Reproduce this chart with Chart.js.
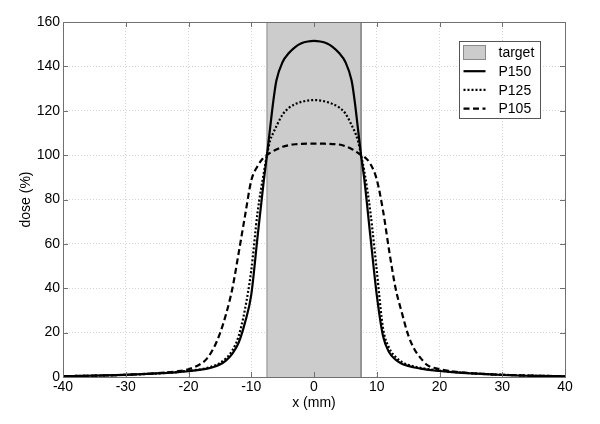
<!DOCTYPE html>
<html>
<head>
<meta charset="utf-8">
<script src="https://cdn.jsdelivr.net/npm/chart.js@4.4.1/dist/chart.umd.min.js"></script>
<style>
  html, body { margin: 0; padding: 0; background: #fff; }
</style>
</head>
<body>
<canvas id="doseChart" width="600" height="424"></canvas>
<script>
// sampled lateral positions (mm)
const xs = [-40, -35, -30, -25, -22, -20, -18, -17, -16, -15, -14, -13, -12, -11, -10, -9, -8, -7.5, -7, -6.5, -6, -5, -4, -3, -2, -1,
  0, 1, 2, 3, 4, 5, 6, 6.5, 7, 7.5, 8, 9, 10, 11, 12, 13, 14, 15, 16, 17, 18, 20, 22, 25, 30, 35, 40];

// dose profiles (%)
const p150 = [0.4, 0.6, 1.0, 1.6, 2.1, 2.6, 3.3, 3.8, 4.5, 5.6, 7.5, 10.5, 15.5, 24.5, 37, 63, 88.5, 100, 112, 124, 133.5, 142, 146, 148.7, 150.4, 151.2,
  151.5, 151.2, 150.4, 148.7, 146, 142, 133.5, 124, 112, 100, 89.5, 63, 37, 18.5, 11, 7.8, 6, 5, 4.3, 3.8, 3.3, 2.7, 2.2, 1.6, 0.9, 0.5, 0.3];
const p125 = [0.4, 0.6, 1.0, 1.6, 2.2, 2.8, 3.5, 4.1, 5, 6.3, 8.5, 12, 18.5, 30.5, 48, 74, 92, 100, 106.5, 110, 113, 118.3, 121.3, 123, 124, 124.6,
  124.8, 124.6, 124, 123, 121.5, 118.8, 113.5, 110.5, 106.5, 100, 93, 74, 48, 22, 13, 9, 6.8, 5.5, 4.7, 4.1, 3.6, 2.9, 2.3, 1.7, 1.0, 0.6, 0.3];
const p105 = [0.4, 0.6, 1.0, 1.7, 2.5, 3.5, 6, 8.5, 13, 19.5, 28.5, 40, 56, 72.5, 88.5, 95, 99, 100, 101, 101.8, 102.5, 103.8, 104.5, 104.9, 105.1, 105.2,
  105.2, 105.2, 105.1, 105, 104.8, 104, 102.8, 102, 101, 100, 99.3, 96, 89, 75, 56.5, 40, 29, 19, 12.5, 8.5, 5.5, 3.5, 2.6, 1.7, 1.0, 0.6, 0.3];

// target volume extent (mm) and the height it is drawn to
const targetEdges = [-7.5, 7.5];
const targetTop = 160;

const FONT = '"Liberation Sans", Arial, Helvetica, sans-serif';

function pts(ys) {
  return xs.map((x, i) => ({ x: x, y: ys[i] }));
}

const targetData = [
  { x: targetEdges[0], y: 0 },
  { x: targetEdges[0], y: targetTop },
  { x: targetEdges[1], y: targetTop },
  { x: targetEdges[1], y: 0 }
];

// box round the plot with inward tick marks
const framePlugin = {
  id: 'frame',
  afterDatasetsDraw(chart) {
    const { ctx, chartArea: a, scales: { x, y } } = chart;
    ctx.save();
    ctx.strokeStyle = '#707070';
    ctx.lineWidth = 1;
    ctx.setLineDash([]);
    ctx.beginPath();
    x.ticks.forEach(t => {
      const px = Math.round(x.getPixelForValue(t.value)) + 0.5;
      ctx.moveTo(px, a.bottom); ctx.lineTo(px, a.bottom - 5);
      ctx.moveTo(px, a.top); ctx.lineTo(px, a.top + 5);
    });
    y.ticks.forEach(t => {
      const py = Math.round(y.getPixelForValue(t.value)) + 0.5;
      ctx.moveTo(a.left, py); ctx.lineTo(a.left + 5, py);
      ctx.moveTo(a.right, py); ctx.lineTo(a.right - 5, py);
    });
    ctx.stroke();
    ctx.strokeRect(Math.round(a.left) + 0.5, Math.round(a.top) + 0.5,
      Math.round(a.right - a.left), Math.round(a.bottom - a.top));
    ctx.restore();
  }
};

// legend box inside the plot, top right
const boxLegend = {
  id: 'boxLegend',
  afterDraw(chart) {
    const { ctx, chartArea: a } = chart;
    const w = 81, h = 77;
    const bx = Math.round(a.right - 25 - w) + 0.5;
    const by = Math.round(a.top + 19) + 0.5;
    ctx.save();
    ctx.fillStyle = '#fff';
    ctx.fillRect(bx, by, w, h);
    ctx.strokeStyle = '#555';
    ctx.lineWidth = 1;
    ctx.strokeRect(bx, by, w, h);

    const order = [3, 0, 1, 2];
    ctx.font = '14px ' + FONT;
    ctx.textBaseline = 'middle';
    ctx.fillStyle = '#000';
    order.forEach((di, row) => {
      const ds = chart.data.datasets[di];
      const cy = by + 11 + row * 18.7;
      if (ds.fill) {
        ctx.fillStyle = ds.backgroundColor;
        ctx.fillRect(bx + 4, cy - 7, 22, 14);
        ctx.strokeStyle = ds.borderColor;
        ctx.strokeRect(bx + 4, cy - 7, 22, 14);
      } else {
        ctx.strokeStyle = ds.borderColor;
        ctx.lineWidth = ds.borderWidth;
        ctx.setLineDash(ds.borderDash || []);
        ctx.beginPath();
        ctx.moveTo(bx + 4, cy);
        ctx.lineTo(bx + 26, cy);
        ctx.stroke();
        ctx.setLineDash([]);
        ctx.lineWidth = 1;
      }
      ctx.fillStyle = '#000';
      ctx.fillText(ds.label, bx + 39, cy + 1);
    });
    ctx.restore();
  }
};

new Chart(document.getElementById('doseChart'), {
  type: 'line',
  data: {
    datasets: [
      { label: 'P150', data: pts(p150), borderColor: '#000', borderWidth: 2.2, pointRadius: 0,
        cubicInterpolationMode: 'monotone', fill: false },
      { label: 'P125', data: pts(p125), borderColor: '#000', borderWidth: 2.2, borderDash: [2, 2],
        pointRadius: 0, cubicInterpolationMode: 'monotone', fill: false },
      { label: 'P105', data: pts(p105), borderColor: '#000', borderWidth: 2.2, borderDash: [6, 3.5],
        pointRadius: 0, cubicInterpolationMode: 'monotone', fill: false },
      { label: 'target', data: targetData, borderColor: '#8a8a8a', borderWidth: 1,
        backgroundColor: '#cccccc', fill: 'origin', pointRadius: 0, tension: 0, order: 10 }
    ]
  },
  options: {
    responsive: false,
    devicePixelRatio: 1,
    animation: false,
    layout: { padding: { left: 0, right: 35, top: 22, bottom: 0 } },
    plugins: { legend: { display: false }, tooltip: { enabled: false } },
    scales: {
      x: {
        type: 'linear', min: -40, max: 40,
        afterFit: s => { s.height = 47; },
        ticks: { stepSize: 10, color: '#000', padding: 2, font: { family: FONT, size: 14 }, maxRotation: 0 },
        grid: { color: '#d4d4d4', lineWidth: 1, drawTicks: false },
        border: { display: false, dash: [1, 2] },
        title: { display: true, text: 'x (mm)', color: '#000', font: { family: FONT, size: 14 },
          padding: { top: 0, bottom: 12 } }
      },
      y: {
        min: 0, max: 160,
        afterFit: s => { s.width = 63; },
        ticks: { stepSize: 20, color: '#000', padding: 3, font: { family: FONT, size: 14 } },
        grid: { color: '#d4d4d4', lineWidth: 1, drawTicks: false },
        border: { display: false, dash: [1, 2] },
        title: { display: true, text: 'dose (%)', color: '#000', font: { family: FONT, size: 14 },
          padding: { top: 18, bottom: 0 } }
      }
    }
  },
  plugins: [framePlugin, boxLegend]
});
</script>
</body>
</html>
